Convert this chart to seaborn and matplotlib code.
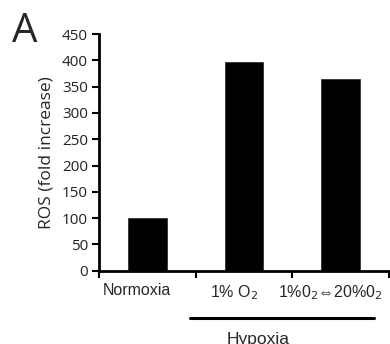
import matplotlib

matplotlib.use("Agg")

import matplotlib.pyplot as plt
import matplotlib.transforms as mtransforms
import pandas as pd
import seaborn as sns

conditions = ["Normoxia", "1% O$_2$", "1%0$_2$\u21d420%0$_2$"]
ros_fold = [100, 396, 364]
y_ticks = [0, 50, 100, 150, 200, 250, 300, 350, 400, 450]
group_label = "Hypoxia"
panel_label = "A"

sns.set_style("white")
plt.rcParams["font.family"] = ["Liberation Sans", "DejaVu Sans"]

df = pd.DataFrame({"condition": conditions, "ros": ros_fold})

fig = plt.figure(figsize=(3.9, 3.44), dpi=100)
ax = fig.add_axes([99 / 390, 1 - 270.7 / 344, 290 / 390, 236.7 / 344])
sns.barplot(data=df, x="condition", y="ros", color="black", width=0.4,
            edgecolor="#333333", linewidth=0.6, saturation=1, ax=ax)

ax.set_xlim(-0.5, 2.5)
ax.set_ylim(0, 450)
ax.set_yticks(y_ticks)
ax.set_yticklabels([str(v) for v in y_ticks], family=["Open Sans", "DejaVu Sans"],
                   fontsize=11, color="#222222")
ax.set_xticks(range(len(conditions)))
ax.set_xticklabels(conditions, fontsize=11.5)
ax.set_xticks([-0.5, 0.5, 1.5, 2.5], minor=True)
ax.tick_params(axis="x", which="major", length=0, pad=9)
ax.tick_params(axis="x", which="minor", length=5, width=1.5, direction="out", color="black", bottom=True)
ax.tick_params(axis="y", length=5, width=1.5, direction="out", color="black", left=True, pad=3)

# the category labels sit a little left of the bar centres
shift = mtransforms.ScaledTranslation(-10 / 100, 0, fig.dpi_scale_trans)
for lab in ax.get_xticklabels():
    lab.set_transform(lab.get_transform() + shift)

for side in ["top", "right"]:
    ax.spines[side].set_visible(False)
for side in ["left", "bottom"]:
    ax.spines[side].set_color("black")
    ax.spines[side].set_linewidth(2)

ax.set_xlabel("")
ax.set_ylabel("ROS (fold increase)", family=["Open Sans", "DejaVu Sans"], fontsize=12.5, labelpad=5)

trans = mtransforms.blended_transform_factory(ax.transData, ax.transAxes)
ax.plot([0.44, 2.34], [-0.199, -0.199], color="black", linewidth=2.2, transform=trans, clip_on=False)
ax.text(1.144, -0.258, group_label, transform=trans, ha="center", va="top", fontsize=12.5)

fig.text(12 / 390, 1 - 12 / 344, panel_label, ha="left", va="top", fontsize=29,
         family=["Open Sans", "DejaVu Sans"])

fig.savefig("out.png", dpi=100)
